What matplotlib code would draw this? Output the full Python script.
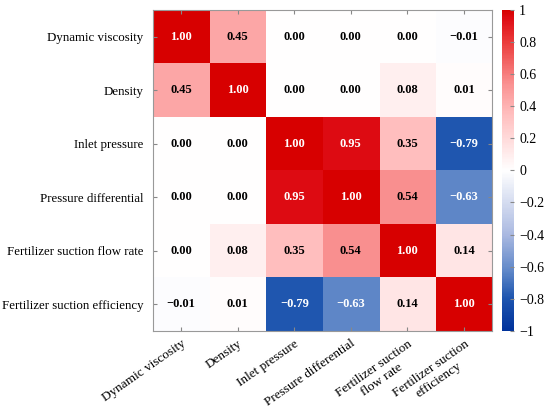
import matplotlib.pyplot as plt
import numpy as np
from matplotlib.colors import LinearSegmentedColormap

labels = ['Dynamic viscosity', 'Density', 'Inlet pressure', 'Pressure differential',
          'Fertilizer suction flow rate', 'Fertilizer suction efficiency']
xlabels = ['Dynamic viscosity', 'Density', 'Inlet pressure', 'Pressure differential',
           'Fertilizer suction\nflow rate', 'Fertilizer suction\nefficiency']
corr = np.array([
    [1.00, 0.45, 0.00, 0.00, 0.00, -0.01],
    [0.45, 1.00, 0.00, 0.00, 0.08, 0.01],
    [0.00, 0.00, 1.00, 0.95, 0.35, -0.79],
    [0.00, 0.00, 0.95, 1.00, 0.54, -0.63],
    [0.00, 0.08, 0.35, 0.54, 1.00, 0.14],
    [-0.01, 0.01, -0.79, -0.63, 0.14, 1.00],
])
cbar_ticks = [-1, -0.8, -0.6, -0.4, -0.2, 0, 0.2, 0.4, 0.6, 0.8, 1]
cbar_labels = ['\u22121', '\u22120.8', '\u22120.6', '\u22120.4', '\u22120.2', '0',
               '0.2', '0.4', '0.6', '0.8', '1']

plt.rcParams['font.family'] = ['Liberation Serif', 'DejaVu Serif']

# blue - white - red, kept a bit lighter near zero
nodes = [
    (0.0, (0/255, 50/255, 155/255)),
    (0.1, (30/255, 85/255, 175/255)),
    (0.185, (95/255, 135/255, 200/255)),
    (0.3, (170/255, 185/255, 225/255)),
    (0.5, (1, 1, 1)),
    (0.675, (1, 190/255, 190/255)),
    (0.77, (250/255, 145/255, 145/255)),
    (0.9, (235/255, 60/255, 60/255)),
    (0.975, (222/255, 12/255, 20/255)),
    (1.0, (215/255, 0, 0)),
]
cmap = LinearSegmentedColormap.from_list('rwb', nodes)

fig = plt.figure(figsize=(5.5, 4.13), dpi=100)
ax = fig.add_axes([0.278, 0.199, 0.617, 0.777])
cax = fig.add_axes([0.913, 0.199, 0.022, 0.777])

im = ax.imshow(corr, cmap=cmap, vmin=-1, vmax=1, aspect='auto')

n = len(labels)
for i in range(n):
    for j in range(n):
        v = corr[i, j]
        txt = ('%.2f' % v).replace('-', '\u2212')
        col = 'white' if abs(v) >= 0.6 else 'black'
        ax.text(j, i, txt, ha='center', va='center', fontsize=9,
                fontweight='bold', color=col)

ax.set_xticks(range(n))
ax.set_yticks(range(n))
ax.set_yticklabels(labels, fontsize=9.3)
ax.set_xticklabels(xlabels, fontsize=9.5, rotation=35, ha='right',
                   rotation_mode='anchor', multialignment='center')
ax.tick_params(direction='in', length=3, color='#888888', top=True, right=True)
ax.tick_params(axis='y', pad=7)
ax.tick_params(axis='x', pad=5)
for s in ax.spines.values():
    s.set_color('#999999')

cb = fig.colorbar(im, cax=cax, ticks=cbar_ticks)
cb.ax.set_yticklabels(cbar_labels, fontsize=10)
cb.ax.tick_params(direction='in', length=3, color='#888888')
cb.outline.set_visible(False)

plt.savefig('out.png', dpi=100)
